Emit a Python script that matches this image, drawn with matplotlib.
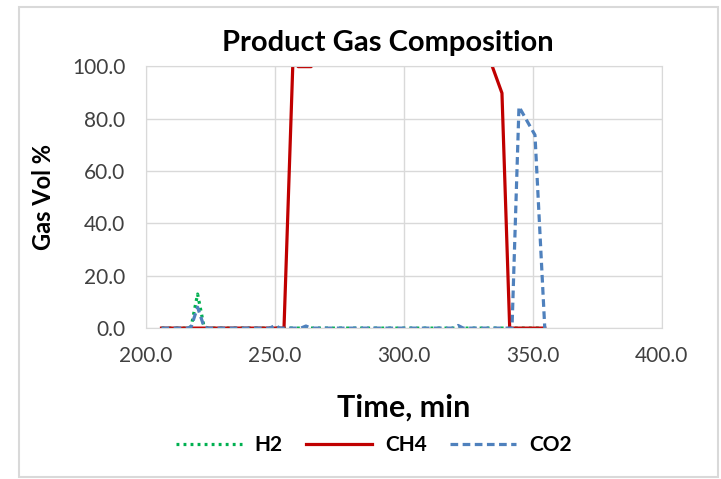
import matplotlib.pyplot as plt
from matplotlib.patches import Rectangle
from matplotlib.lines import Line2D

# data
h2_time = [206, 216, 217.5, 220, 222.5, 224, 355]
h2_vol = [0, 0, 0.5, 13, 0.5, 0, 0]

ch4_time = [206, 253.5, 257, 259, 264, 267, 332, 338, 341, 354.6]
ch4_vol = [0, 0, 103, 99.8, 99.8, 104, 106, 89.7, 0, 0]

co2_time = [206, 216, 217.5, 220, 222.5, 224, 248, 250, 252, 260, 262, 264,
            319, 321, 323, 341.9, 344.6, 350.8, 354.6]
co2_vol = [0, 0, 0.5, 8, 0.5, 0, 0, 1, 0, 0, 0.8, 0,
           0, 1, 0, 0, 84.5, 73.7, 0]

x_ticks = [200.0, 250.0, 300.0, 350.0, 400.0]
y_ticks = [0.0, 20.0, 40.0, 60.0, 80.0, 100.0]

plt.rcParams['font.family'] = ['Lato', 'DejaVu Sans']

H2_STYLE = dict(color='#00b050', linestyle=(0, (0.9, 1.3)), linewidth=2.3)
CH4_STYLE = dict(color='#c00000', linewidth=2.3)
CO2_STYLE = dict(color='#4f81bd', linestyle=(0, (2.4, 1.4)), linewidth=2.3)

fig = plt.figure(figsize=(7.21, 4.79), dpi=100)
ax = fig.add_axes([0.2025, 0.315, 0.7155, 0.547])

# outer chart frame
fig.patches.append(Rectangle((19 / 721, 2 / 479), 699 / 721, 470 / 479, transform=fig.transFigure,
                             fill=False, edgecolor='#d9d9d9', linewidth=1.5))

ax.plot(h2_time, h2_vol, label='H2', **H2_STYLE)
ax.plot(ch4_time, ch4_vol, label='CH4', **CH4_STYLE)
ax.plot(co2_time, co2_vol, label='CO2', **CO2_STYLE)

ax.set_xlim(200, 400)
ax.set_ylim(0, 100)
ax.set_xticks(x_ticks)
ax.set_yticks(y_ticks)
ax.set_xticklabels([f"{v:.1f}" for v in x_ticks])
ax.set_yticklabels([f"{v:.1f}" for v in y_ticks])
ax.tick_params(length=0, labelsize=15, colors='#404040')
ax.tick_params(axis='y', pad=15)
ax.tick_params(axis='x', pad=13)
ax.grid(color='#d9d9d9', linewidth=1)
ax.set_axisbelow(True)
for s in ax.spines.values():
    s.set_color('#d9d9d9')

# title sits a bit left of the plot centre, like the original
fig.text(388 / 721, 1 - 43 / 479, 'Product Gas Composition', fontsize=21, fontweight='bold',
         ha='center', va='center')
ax.set_xlabel('Time, min', fontsize=22, fontweight='bold', labelpad=20)
ax.set_ylabel('Gas Vol %', fontsize=17, fontweight='bold', labelpad=12)

handles = [Line2D([], [], **H2_STYLE), Line2D([], [], **CH4_STYLE), Line2D([], [], **CO2_STYLE)]
fig.legend(handles, ['H2', 'CH4', 'CO2'], loc='center', bbox_to_anchor=(0.518, 1 - 445 / 479), ncol=3,
           frameon=False, prop={'size': 15, 'weight': 'bold'}, handlelength=3.2,
           handletextpad=0.6, columnspacing=1.1)

fig.savefig('out.png', dpi=100)
